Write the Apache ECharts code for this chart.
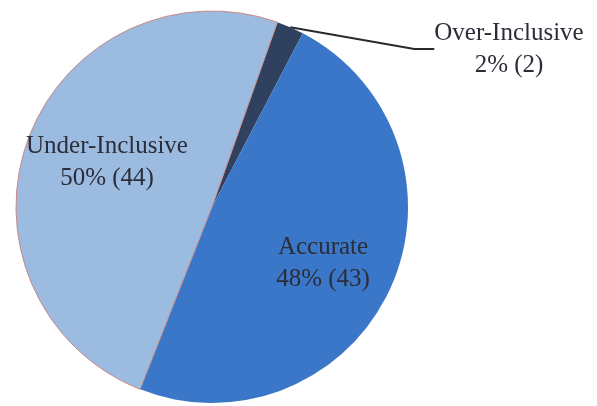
<!DOCTYPE html>
<html>
<head>
<meta charset="utf-8">
<script src="https://cdn.jsdelivr.net/npm/echarts@6/dist/echarts.min.js"></script>
<style>
html,body{margin:0;padding:0;background:#fff;}
#chart{width:597px;height:406px;}
</style>
</head>
<body>
<div id="chart"></div>
<script>
var categories = ['Over-Inclusive', 'Accurate', 'Under-Inclusive'];
var counts = [2, 43, 44];
var percents = [2, 48, 50];
var colors = ['#2f415f', '#3b77c8', '#9cbbe1'];

var labelPos = [
  {x: 509, y: 49},
  {x: 323, y: 263},
  {x: 107, y: 162}
];

var chart = echarts.init(document.getElementById('chart'));
chart.setOption({
  backgroundColor: '#ffffff',
  animation: false,
  series: [{
    type: 'pie',
    center: [212, 207],
    radius: 196,
    startAngle: 70.5,
    clockwise: true,
    data: categories.map(function (name, i) {
      return {
        name: name,
        value: counts[i],
        itemStyle: {
          color: colors[i],
          borderColor: i === 2 ? '#c98a86' : colors[i],
          borderWidth: i === 2 ? 1 : 0
        },
        label: { position: i === 0 ? 'outside' : 'inside' },
        labelLine: { show: i === 0 }
      };
    }),
    label: {
      show: true,
      fontFamily: 'Liberation Serif',
      fontSize: 25,
      lineHeight: 32,
      color: '#2b2d38',
      align: 'center',
      formatter: function (p) {
        return p.name + '\n' + percents[p.dataIndex] + '% (' + p.value + ')';
      }
    },
    labelLine: {
      show: true,
      lineStyle: { color: '#2a2a2a', width: 2 },
      length: 20,
      length2: 20
    },
    labelLayout: function (params) {
      var p = labelPos[params.dataIndex];
      return { x: p.x, y: p.y, align: 'center', verticalAlign: 'middle' };
    }
  }]
});
</script>
</body>
</html>
